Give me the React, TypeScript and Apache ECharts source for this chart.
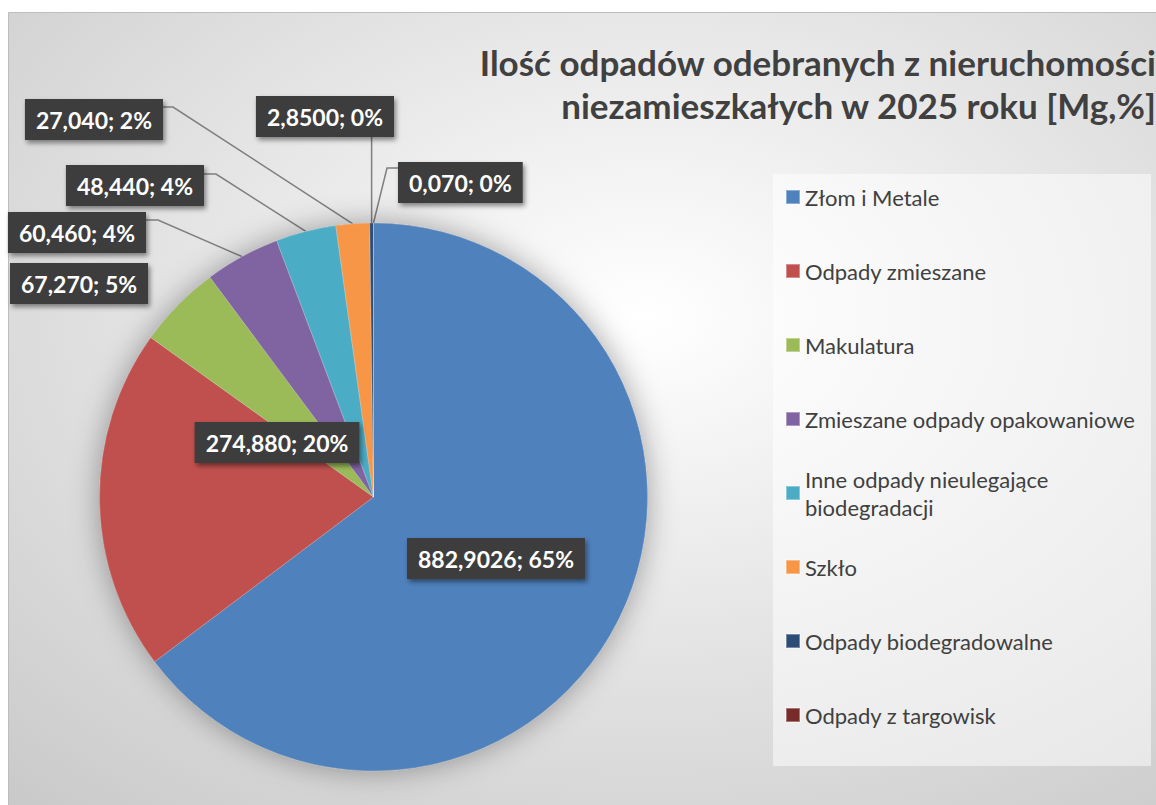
import React, { useEffect, useRef } from 'react';
import * as echarts from 'echarts';

const categories = [
  'Złom i Metale',
  'Odpady zmieszane',
  'Makulatura',
  'Zmieszane odpady opakowaniowe',
  'Inne odpady nieulegające biodegradacji',
  'Szkło',
  'Odpady biodegradowalne',
  'Odpady z targowisk',
];
const values = [882.9026, 274.88, 67.27, 60.46, 48.44, 27.04, 2.85, 0.07];
const valueDecimals = [4, 3, 3, 3, 3, 3, 4, 3];
const colors = ['#4f81bd', '#c0504d', '#9bbb59', '#8064a2', '#4bacc6', '#f79646', '#2c4d75', '#772c2a'];
const titleText = 'Ilość odpadów odebranych z nieruchomości\nniezamieszkałych w 2025 roku [Mg,%]';

// label box anchors: [x, y(top), align]
const labelBoxes: [number, number, string][] = [
  [496, 538, 'center'],
  [277, 422, 'center'],
  [10, 263, 'left'],
  [146, 212, 'right'],
  [204, 165, 'right'],
  [163, 99, 'right'],
  [394, 96, 'right'],
  [398, 162, 'left'],
];
// leader lines: [elbow, end] or 'v' for vertical or null
const labelLines: any[] = [
  null,
  null,
  null,
  [[158, 220], [146, 220]],
  [[216, 174], [204, 174]],
  [[173, 107], [163, 107]],
  'v',
  [[387, 168], [399, 168]],
];
const legendFirstCenter = 197;
const legendStep = 74;

const FONT = 'Lato, "Open Sans", sans-serif';

export default function App() {
  const ref = useRef<HTMLDivElement>(null);
  useEffect(() => {
    if (!ref.current) return;
    const chart = echarts.init(ref.current, null, { renderer: 'svg' });
    const total = values.reduce((a, b) => a + b, 0);

    const legends = categories.map((name, i) => {
      const center = legendFirstCenter + i * legendStep;
      const multi = name.startsWith('Inne');
      return {
        orient: 'vertical',
        left: 785,
        top: multi ? center - 42 : center - 14,
        padding: 0,
        itemWidth: 14,
        itemHeight: 14,
        itemGap: 0,
        icon: 'rect',
        data: [name],
        selectedMode: false,
        formatter: multi ? () => 'Inne odpady nieulegające\nbiodegradacji' : undefined,
        textStyle: {
          fontFamily: FONT,
          fontSize: 22,
          color: '#404040',
          lineHeight: 28,
          padding: multi ? [28, 0, 0, 0] : 0,
        },
      };
    });

    const option: any = {
      animation: false,
      color: colors,
      graphic: [
        {
          type: 'rect',
          z: -10,
          silent: true,
          shape: { x: 8.5, y: 12.5, width: 1160, height: 800 },
          style: {
            fill: new echarts.graphic.RadialGradient(0.55, 0.38, 0.9, [
              { offset: 0, color: '#ffffff' },
              { offset: 1, color: '#c4c4c4' },
            ]),
            stroke: '#bdbdbd',
            lineWidth: 1,
          },
        },
        {
          type: 'rect',
          z: -5,
          silent: true,
          shape: { x: 773, y: 174, width: 378, height: 592 },
          style: { fill: 'rgba(255,255,255,0.5)' },
        },
        {
          type: 'text',
          z: 5,
          silent: true,
          x: 1156,
          y: 40,
          style: {
            text: titleText,
            align: 'right',
            verticalAlign: 'top',
            fontFamily: FONT,
            fontWeight: 'bold',
            fontSize: 35,
            lineHeight: 43,
            fill: '#404040',
          },
        },
      ],
      legend: legends,
      series: [
        {
          type: 'pie',
          silent: true,
          center: [373.5, 497],
          radius: 274,
          label: { show: false },
          labelLine: { show: false },
          itemStyle: {
            color: '#9a9a9a',
            shadowBlur: 30,
            shadowColor: 'rgba(0,0,0,0.35)',
          },
          data: [{ value: total, name: '__shadow' }],
        },
        {
          type: 'pie',
          center: [373.5, 497],
          radius: 274,
          startAngle: 90,
          clockwise: true,
          avoidLabelOverlap: false,
          itemStyle: { borderColor: 'rgba(255,255,255,0.35)', borderWidth: 0.6 },
          label: {
            show: true,
            position: 'outside',
            formatter: (p: any) =>
              `${values[p.dataIndex].toFixed(valueDecimals[p.dataIndex]).replace('.', ',')}; ${Math.round(p.percent)}%`,
            fontFamily: FONT,
            fontWeight: 'bold',
            fontSize: 23,
            lineHeight: 23,
            color: '#ffffff',
            backgroundColor: '#3e3e3e',
            padding: [9, 11],
            shadowColor: 'rgba(0,0,0,0.45)',
            shadowBlur: 5,
            shadowOffsetX: 2,
            shadowOffsetY: 3,
          },
          labelLine: {
            show: true,
            length: 20,
            length2: 10,
            lineStyle: { color: '#7f7f7f', width: 1.5 },
          },
          labelLayout: (params: any) => {
            const i = params.dataIndex;
            const b = labelBoxes[i];
            const res: any = { x: b[0], y: b[1], align: b[2], verticalAlign: 'top' };
            const ll = labelLines[i];
            const edge = params.labelLinePoints && params.labelLinePoints[0];
            if (ll && edge) {
              if (ll === 'v') {
                res.labelLinePoints = [edge, [edge[0], 180], [edge[0], b[1] + 41]];
              } else {
                res.labelLinePoints = [edge, ll[0], ll[1]];
              }
            }
            return res;
          },
          data: categories.map((name, i) => ({
            name,
            value: values[i],
            label: i < 2 ? { position: 'inside' } : undefined,
            labelLine: labelLines[i] ? undefined : { show: false },
          })),
        },
      ],
    };
    chart.setOption(option);
    return () => chart.dispose();
  }, []);
  return (
    <div
      ref={ref}
      style={{ position: 'absolute', left: 0, top: 0, width: 1156, height: 805 }}
    />
  );
}
